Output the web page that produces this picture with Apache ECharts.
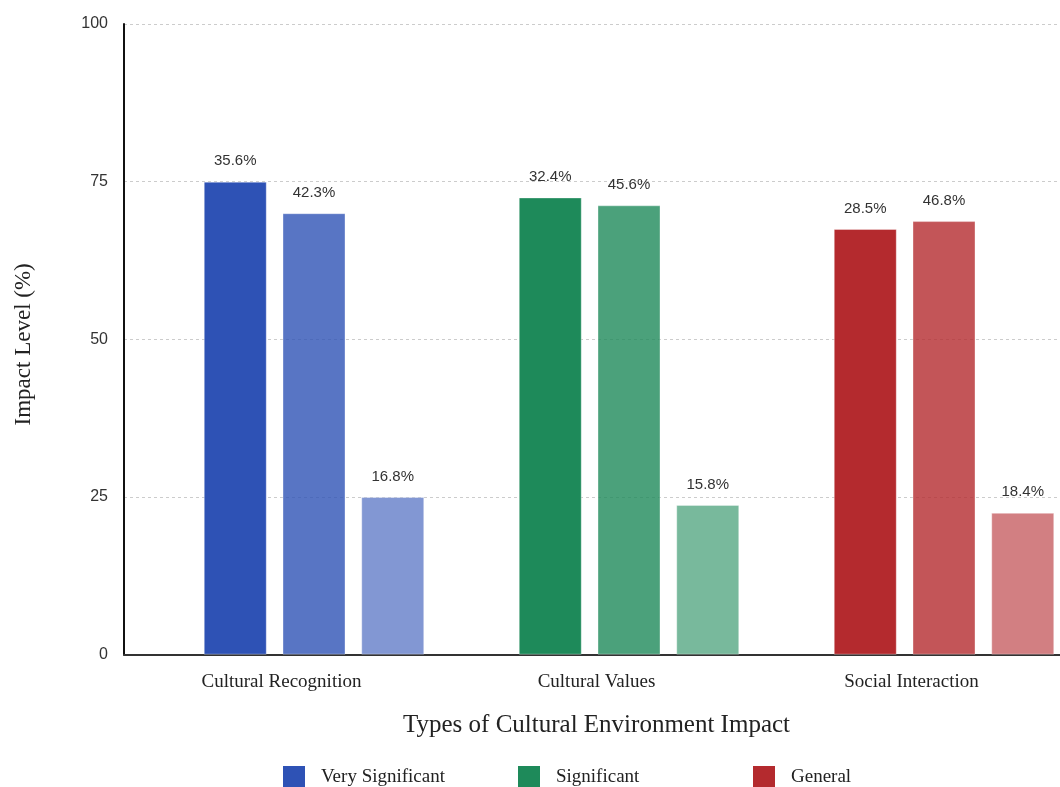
<!DOCTYPE html>
<html>
<head>
<meta charset="utf-8">
<script src="https://cdn.jsdelivr.net/npm/echarts@6/dist/echarts.min.js"></script>
<style>
html,body{margin:0;padding:0;background:#fff;overflow:hidden;}
#chart{width:1110px;height:787px;}
</style>
</head>
<body>
<div id="chart"></div>
<script>
// ---- data ----
var categories = ['Cultural Recognition', 'Cultural Values', 'Social Interaction'];
var seriesNames = ['Very Significant', 'Significant', 'General'];
var veryValues = [75, 72.5, 67.5];
var sigValues = [70, 71.25, 68.75];
var genValues = [25, 23.75, 22.5];
var veryLabels = ['35.6%', '32.4%', '28.5%'];
var sigLabels = ['42.3%', '45.6%', '46.8%'];
var genLabels = ['16.8%', '15.8%', '18.4%'];
var yTicks = [0, 25, 50, 75, 100];

// ---- styles ----
var baseRGB = [[46, 82, 181], [30, 138, 90], [180, 42, 46]];
var seriesOpacity = [1, 0.8, 0.6];
function rgba(c, a) { return 'rgba(' + c[0] + ',' + c[1] + ',' + c[2] + ',' + a + ')'; }
var serif = '"Liberation Serif", "DejaVu Serif", serif';
var sans = '"Liberation Sans", "DejaVu Sans", sans-serif';

var allValues = [veryValues, sigValues, genValues];
var allLabels = [veryLabels, sigLabels, genLabels];

var series = seriesNames.map(function (name, si) {
  return {
    name: name,
    type: 'bar',
    xAxisIndex: 1,
    yAxisIndex: 1,
    barWidth: 63,
    barGap: '25%',
    itemStyle: { color: rgba(baseRGB[si], 1) },
    label: {
      show: true,
      position: 'top',
      distance: 13,
      fontFamily: sans,
      fontSize: 15,
      color: '#333',
      formatter: function (p) { return allLabels[si][p.dataIndex]; }
    },
    data: allValues[si].map(function (v, ci) {
      return {
        value: v,
        itemStyle: {
          color: rgba(baseRGB[ci], seriesOpacity[si]),
          borderColor: 'rgba(255,255,255,0.35)',
          borderWidth: 1
        }
      };
    })
  };
});

var legendLefts = [283, 518, 753];
var legends = seriesNames.map(function (name, i) {
  return {
    data: [name],
    left: legendLefts[i],
    top: 766,
    padding: 0,
    itemWidth: 22,
    itemHeight: 22,
    icon: 'rect',
    selectedMode: false,
    textStyle: {
      fontFamily: serif,
      fontSize: 19,
      color: '#222',
      padding: [0, 0, 0, 11]
    }
  };
});

var chart = echarts.init(document.getElementById('chart'), null, { renderer: 'canvas' });
chart.setOption({
  animation: false,
  backgroundColor: '#fff',
  grid: [
    { left: 124, top: 24, width: 945, height: 630.7 },
    { left: 156.5, top: 24, width: 945, height: 630.7 }
  ],
  legend: legends,
  xAxis: [
    {
      gridIndex: 0,
      type: 'category',
      data: categories,
      axisTick: { show: false },
      axisLine: { show: true, lineStyle: { color: '#333', width: 2 } },
      axisLabel: { fontFamily: serif, fontSize: 19, color: '#222', margin: 18 },
      name: 'Types of Cultural Environment Impact',
      nameLocation: 'middle',
      nameGap: 58,
      nameTextStyle: { fontFamily: serif, fontSize: 25, color: '#222' }
    },
    {
      gridIndex: 1,
      type: 'category',
      data: categories,
      show: false
    }
  ],
  yAxis: [
    {
      gridIndex: 0,
      type: 'value',
      min: yTicks[0],
      max: yTicks[yTicks.length - 1],
      interval: 25,
      axisLine: { show: true, lineStyle: { color: '#111', width: 2 } },
      axisTick: { show: false },
      axisLabel: { fontFamily: sans, fontSize: 16, color: '#333', margin: 16 },
      splitLine: { show: true, lineStyle: { color: '#ccc', type: [3, 3], width: 1 } },
      name: 'Impact Level (%)',
      nameLocation: 'middle',
      nameGap: 89,
      nameTextStyle: { fontFamily: serif, fontSize: 23, color: '#222', padding: [0, 10, 0, 0] }
    },
    {
      gridIndex: 1,
      type: 'value',
      min: yTicks[0],
      max: yTicks[yTicks.length - 1],
      show: false,
      splitLine: { show: false }
    }
  ],
  series: series
});
</script>
</body>
</html>
